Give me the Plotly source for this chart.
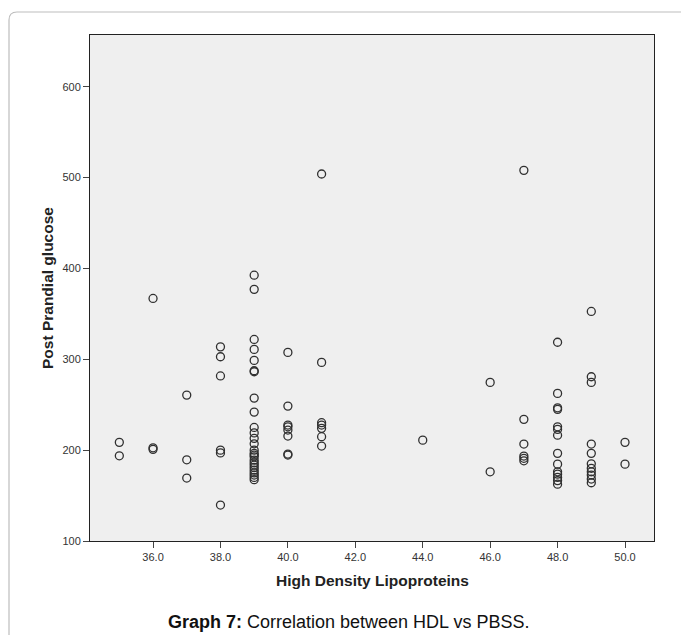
import plotly.graph_objects as go

# Data (HDL vs post-prandial glucose)
hdl_35 = [208.6, 193.8]
hdl_36 = [367, 202.6, 200.9]
hdl_37 = [260.6, 189.4, 169.3]
hdl_38 = [313.7, 302.8, 281.7, 200, 197, 139.6]
hdl_39 = [392.6, 377, 321.9, 310.9, 298.8, 287.4, 286.3, 257.3, 241.9, 225, 219, 213,
          207, 200, 196.5, 194.6, 192.7, 189, 186, 183.6, 181, 178, 175, 172.6, 170, 167.5]
hdl_40 = [307.6, 248.5, 227.6, 225.7, 222.1, 215.5, 195.7, 194.6]
hdl_41 = [504, 296.6, 230.2, 227.6, 224, 214.8, 204.5]
hdl_44 = [211]
hdl_46 = [274.6, 176.2]
hdl_47 = [508, 233.9, 206.7, 193.5, 191, 188.3]
hdl_48 = [318.8, 262.5, 246.6, 244.9, 225.7, 222.9, 216.5, 196.5, 184.6, 176.2, 173.6,
          170, 166.5, 162.5]
hdl_49 = [352.7, 280.8, 274.6, 206.7, 196.5, 185, 180, 176.2, 172.6, 168.2, 164.1]
hdl_50 = [208.6, 184.6]

groups = {35: hdl_35, 36: hdl_36, 37: hdl_37, 38: hdl_38, 39: hdl_39, 40: hdl_40,
          41: hdl_41, 44: hdl_44, 46: hdl_46, 47: hdl_47, 48: hdl_48, 49: hdl_49,
          50: hdl_50}

x_vals, y_vals = [], []
for k, vals in groups.items():
    for v in vals:
        x_vals.append(k)
        y_vals.append(v)

x_ticks = [36, 38, 40, 42, 44, 46, 48, 50]
x_tick_labels = ["36.0", "38.0", "40.0", "42.0", "44.0", "46.0", "48.0", "50.0"]
y_ticks = [100, 200, 300, 400, 500, 600]

fig = go.Figure()
fig.add_trace(go.Scatter(
    x=x_vals, y=y_vals, mode="markers",
    marker=dict(symbol="circle-open", size=8, color="#303030",
                line=dict(width=1.3, color="#303030")),
    showlegend=False,
))

L, R, T, B = 90, 27, 35, 94
W, H = 681, 635
pw, ph = W - L - R, H - T - B

fig.update_layout(
    width=W, height=H,
    margin=dict(l=L, r=R, t=T, b=B, pad=0),
    paper_bgcolor="white",
    plot_bgcolor="#efefef",
    font=dict(family="Liberation Sans, Arial, sans-serif", size=11, color="#222"),
    xaxis=dict(range=[34.13, 50.86], tickvals=x_ticks, ticktext=x_tick_labels,
               ticks="outside", ticklen=6, tickcolor="#444", showgrid=False,
               zeroline=False, showline=True, linecolor="#222", linewidth=1,
               mirror=True, tickfont=dict(size=11, color="#333")),
    yaxis=dict(range=[100, 657], tickvals=y_ticks, ticks="outside", ticklen=6,
               tickcolor="#444", showgrid=False, zeroline=False, showline=True,
               linecolor="#222", linewidth=1, mirror=True,
               tickfont=dict(size=11, color="#333")),
)

def px_x(p):
    return (p - L) / pw

def px_y(p):
    return (H - B - p) / ph

# rounded border frame around the figure
x0, y0 = px_x(9), px_y(12)
rx, ry = 8 / pw, 8 / ph
path = (f"M {x0},{px_y(700)} L {x0},{y0 - ry} Q {x0},{y0} {x0 + rx},{y0} "
        f"L {px_x(720)},{y0}")
fig.add_shape(type="path", path=path, xref="paper", yref="paper",
              line=dict(color="#bdbdbd", width=1.2), layer="below")

fig.add_annotation(text="<b>High Density Lipoproteins</b>", xref="paper", yref="paper",
                   x=px_x(372), y=px_y(580), showarrow=False,
                   font=dict(size=15.5, color="#222"), xanchor="center", yanchor="middle")
fig.add_annotation(text="<b>Post Prandial glucose</b>", xref="paper", yref="paper",
                   x=px_x(47), y=px_y(288), showarrow=False, textangle=-90,
                   font=dict(size=15.5, color="#222"), xanchor="center", yanchor="middle")
fig.add_annotation(text="<b>Graph 7:</b> Correlation between HDL vs PBSS.",
                   xref="paper", yref="paper", x=px_x(348), y=px_y(622),
                   showarrow=False, font=dict(size=18, color="#111"),
                   xanchor="center", yanchor="middle")

fig.write_html("out.html")
